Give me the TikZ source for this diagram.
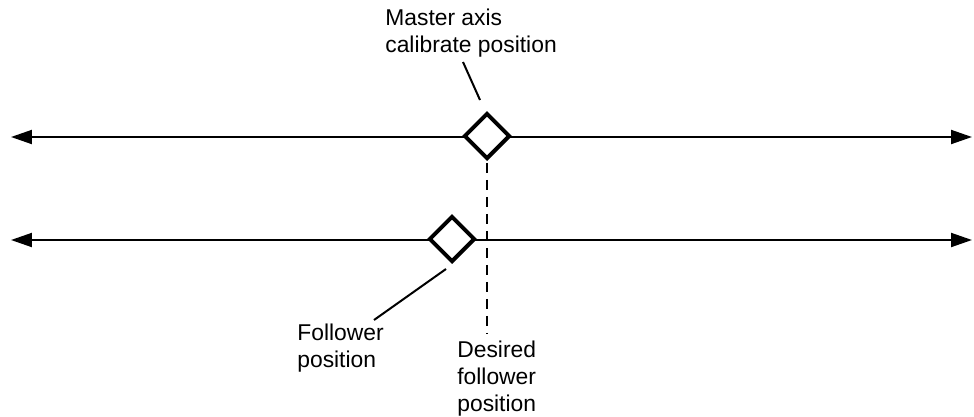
\documentclass[tikz,border=0pt]{standalone}
\usepackage{fontspec}
\setmainfont{Liberation Sans}
\usetikzlibrary{arrows.meta,shapes.geometric}

\begin{document}
\begin{tikzpicture}[x=0.02cm, y=-0.02cm,
	axis/.style={line width=0.04cm, {Triangle[length=0.42cm, width=0.28cm]}-{Triangle[length=0.42cm, width=0.28cm]}},
	marker/.style={diamond, draw=black, fill=white, line width=0.08cm, inner sep=0pt, minimum size=0.92cm},
	leader/.style={line width=0.04cm},
	note/.style={align=left, anchor=base west, inner sep=0pt, font=\fontsize{13pt}{15.2pt}\selectfont}]
	\useasboundingbox (0,0) rectangle (974,416);
	% Axes (end points)
	\coordinate (MasterStart)	at (11,137);
	\coordinate (MasterEnd)		at (972,137);
	\coordinate (FollowStart)	at (11,240);
	\coordinate (FollowEnd)		at (972,240);
	\draw[axis]	(MasterStart) -- (MasterEnd);
	\draw[axis]	(FollowStart) -- (FollowEnd);
	% Position markers
	\node (MasterMark)	[marker]	at (487,136) {};
	\node (FollowMark)	[marker]	at (452,239) {};
	% Texts (anchored at the baseline of the last line)
	\node (MasterText)	[note]	at (385,52)	{Master axis\\calibrate position};
	\node (FollowText)	[note]	at (297,367)	{Follower\\position};
	\node (DesiredText)	[note]	at (457,411)	{Desired\\follower\\position};
	% Leader lines
	\coordinate (MasterTail)	at (463,62);
	\coordinate (MasterTip)		at (480,100);
	\coordinate (FollowTip)		at (446,269);
	\coordinate (FollowTail)	at (374,320);
	\coordinate (DesiredEnd)	at (487,333);
	\draw[leader]	(MasterTail) -- (MasterTip);
	\draw[leader]	(FollowTip) -- (FollowTail);
	\draw[leader, dash pattern=on 0.2cm off 0.14cm]	(MasterMark.south) ++(0,2) -- (DesiredEnd);
\end{tikzpicture}
\end{document}
